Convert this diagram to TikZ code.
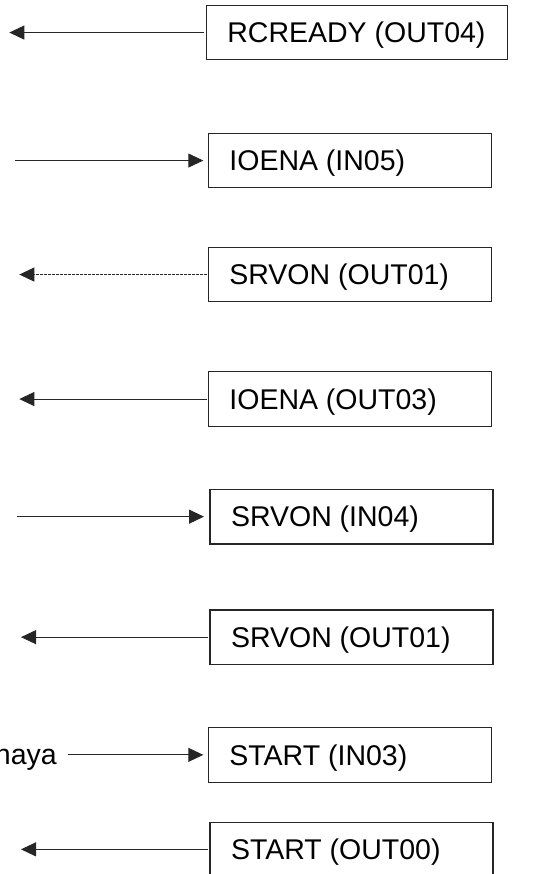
\documentclass[tikz,border=0pt]{standalone}
\usepackage{fontspec}
\setmainfont{Liberation Sans}
\usetikzlibrary{arrows.meta}
\begin{document}
\begin{tikzpicture}[x=1pt,y=-1pt,
  sigbox/.style={draw=black!85, line width=1.2pt, rectangle, anchor=north west,
    minimum width=283pt, minimum height=54.5pt, inner sep=0pt},
  sigtext/.style={anchor=west, inner sep=0pt, font=\fontsize{28.5}{34}\selectfont,
    text height=20.4pt, text depth=0pt},
  conn/.style={draw=black!85, line width=0.9pt, -{Triangle[length=15pt,width=14pt]}},
  dashconn/.style={conn, dash pattern=on 2.5pt off 1.5pt}]
  \useasboundingbox (0,0) rectangle (532,874);
  \clip (0,0) rectangle (532,874);

  % signal boxes
  \node[sigbox, minimum width=301pt] (b1) at (205.7,4.7) {};
  \node[sigbox] (b2) at (207.7,132.7) {};
  \node[sigbox] (b3) at (207.7,246.7) {};
  \node[sigbox] (b4) at (207.7,371.2) {};
  \node[sigbox] (b5) at (209.3,488.8) {};
  \node[sigbox] (b6) at (209.3,609.3) {};
  \node[sigbox] (b7) at (207.7,727.0) {};
  \node[sigbox] (b8) at (209.3,821.5) {};

  % labels
  \node[sigtext] (t1) at ([xshift=21.5pt]b1.west) {RCREADY (OUT04)};
  \node[sigtext] (t2) at ([xshift=21.5pt]b2.west) {IOENA (IN05)};
  \node[sigtext] (t3) at ([xshift=21.5pt]b3.west) {SRVON (OUT01)};
  \node[sigtext] (t4) at ([xshift=21.5pt]b4.west) {IOENA (OUT03)};
  \node[sigtext] (t5) at ([xshift=21.5pt]b5.west) {SRVON (IN04)};
  \node[sigtext] (t6) at ([xshift=21.5pt]b6.west) {SRVON (OUT01)};
  \node[sigtext] (t7) at ([xshift=21.5pt]b7.west) {START (IN03)};
  \node[sigtext] (t8) at ([xshift=21.5pt]b8.west) {START (OUT00)};
  \node[anchor=base east, inner sep=0pt, font=\fontsize{28.5}{34}\selectfont] (src) at (57,764.3) {naya};

  % free ends of the connectors
  \coordinate (e1) at (9.3,0);
  \coordinate (e2) at (15,0);
  \coordinate (e3) at (19.3,0);
  \coordinate (e4) at (19.3,0);
  \coordinate (e5) at (16.7,0);
  \coordinate (e6) at (21,0);
  \coordinate (e8) at (21,0);

  % connectors
  \draw[conn] ([xshift=-1.5pt]b1.west) -- (e1 |- b1.west);
  \draw[conn, shorten >=4.4pt] (e2 |- b2.west) -- (b2.west);
  \draw[dashconn] ([xshift=-1pt]b3.west) -- (e3 |- b3.west);
  \draw[conn] ([xshift=-1pt]b4.west) -- (e4 |- b4.west);
  \draw[conn, shorten >=5.3pt] (e5 |- b5.west) -- (b5.west);
  \draw[conn] ([xshift=-1pt]b6.west) -- (e6 |- b6.west);
  \draw[conn, shorten <=11pt, shorten >=4.4pt] (src.east |- b7.west) -- (b7.west);
  \draw[conn] ([xshift=-1pt]b8.west) -- (e8 |- b8.west);
\end{tikzpicture}
\end{document}
